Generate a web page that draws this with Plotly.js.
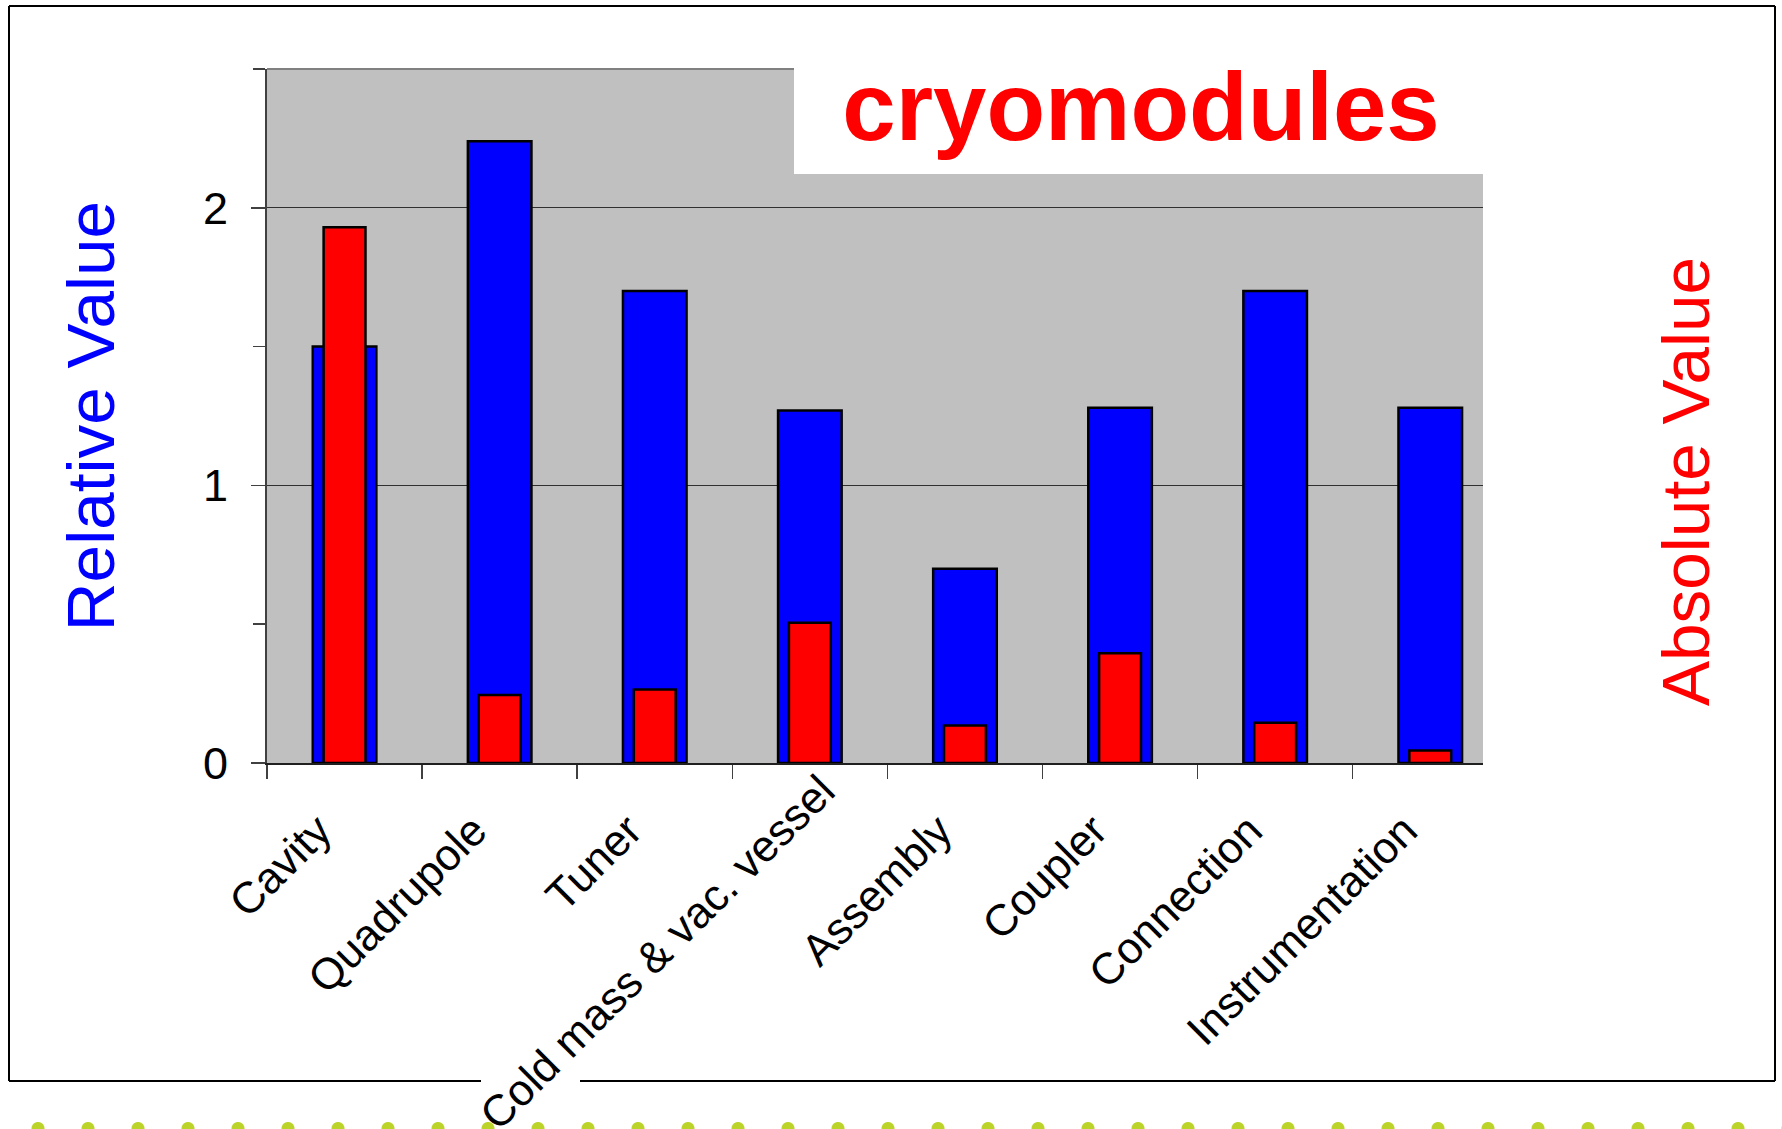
<!DOCTYPE html>
<html>
<head>
<meta charset="utf-8">
<script src="https://cdn.plot.ly/plotly-3.0.1.min.js"></script>
<style>
  html, body { margin: 0; padding: 0; background: #ffffff; }
  #chart { width: 1782px; height: 1129px; position: relative; }
  #dots {
    position: absolute; left: 0; top: 1100px; width: 1782px; height: 29px;
    background-image: radial-gradient(circle, #bcd42a 0px, #bcd42a 6px, rgba(255,255,255,0) 7px);
    background-size: 50px 29px; background-position: 13px 14px; background-repeat: repeat-x;
    pointer-events: none;
  }
</style>
</head>
<body>
<div id="chart"></div>
<div id="dots"></div>
<script>
// ---- data ----
const categories = ["Cavity", "Quadrupole", "Tuner", "Cold mass & vac. vessel",
                    "Assembly", "Coupler", "Connection", "Instrumentation"];
const relativeValues = [1.50, 2.24, 1.70, 1.27, 0.70, 1.28, 1.70, 1.28];
const absoluteValues = [1.93, 0.245, 0.265, 0.505, 0.135, 0.395, 0.145, 0.045];
const yTickValues = [0, 1, 2];
const yTickLabels = ["0", "1", "2"];
const chartTitle = "cryomodules";
const leftAxisTitle = "Relative Value";
const rightAxisTitle = "Absolute Value";

const FONT = "Liberation Sans, Arial, Helvetica, sans-serif";

// the long 4th category label is placed separately (as in the original, it is
// shifted up along its direction so that it stays inside the page)
const LONG_IDX = 3;
const xTickText = categories.map((c, i) => (i === LONG_IDX ? "" : c));

const traces = [
  {
    type: "bar", name: leftAxisTitle, x: categories, y: relativeValues,
    width: 0.41, marker: { color: "#0000ff", line: { color: "#000000", width: 2.5 } },
    yaxis: "y", hoverinfo: "x+y"
  },
  {
    type: "bar", name: rightAxisTitle, x: categories, y: absoluteValues,
    width: 0.27, marker: { color: "#ff0000", line: { color: "#000000", width: 2.5 } },
    yaxis: "y2", hoverinfo: "x+y"
  }
];

// frame geometry in paper units (plot area: x 267..1483, y 69..763 px)
const px = v => (v - 267) / 1216;
const py = v => (763 - v) / 694;

const layout = {
  width: 1782, height: 1129,
  margin: { l: 267, r: 299, t: 69, b: 366 },
  paper_bgcolor: "rgba(0,0,0,0)",
  plot_bgcolor: "#c0c0c0",
  showlegend: false,
  barmode: "overlay",
  font: { family: FONT, color: "#000000", size: 44 },
  title: {
    text: chartTitle,
    font: { family: FONT, size: 96, color: "#ff0000", weight: "bold" },
    xref: "container", yref: "container",
    x: 1141 / 1782, xanchor: "center",
    y: 1 - 106 / 1129, yanchor: "middle"
  },
  xaxis: {
    type: "category",
    range: [-0.5, 7.34],
    tickmode: "array", tickvals: categories, ticktext: xTickText,
    tickangle: -45,
    ticks: "outside", tickson: "boundaries", ticklen: 14, tickwidth: 1.5, tickcolor: "#404040",
    showline: true, linecolor: "#202020", linewidth: 2,
    showgrid: false, zeroline: false,
    tickfont: { family: FONT, size: 44, color: "#000000" },
    ticklabelshift: -26,
    ticklabelstandoff: 22,
    automargin: false
  },
  yaxis: {
    range: [0, 2.5],
    tickmode: "array", tickvals: yTickValues, ticktext: yTickLabels,
    ticks: "outside", ticklen: 14, tickwidth: 1.5, tickcolor: "#404040",
    minor: { dtick: 0.5, ticks: "outside", ticklen: 12, tickwidth: 1.5, tickcolor: "#404040", showgrid: false },
    showline: true, linecolor: "#404040", linewidth: 2,
    showgrid: true, gridcolor: "#303030", gridwidth: 1,
    zeroline: false,
    tickfont: { family: FONT, size: 45, color: "#000000" },
    ticklabelstandoff: 14,
    title: { text: leftAxisTitle, font: { family: FONT, size: 67.5, color: "#0000ff" }, standoff: 66 },
    automargin: false
  },
  yaxis2: {
    range: [0, 2.5],
    overlaying: "y", side: "right",
    showticklabels: false, ticks: "", showgrid: false, zeroline: false, showline: false,
    automargin: false
  },
  annotations: [
    { text: rightAxisTitle, xref: "paper", yref: "paper", x: px(1685), y: py(482),
      xanchor: "center", yanchor: "middle", textangle: -90, showarrow: false,
      font: { family: FONT, size: 67.5, color: "#ff0000" } },
    { text: categories[LONG_IDX], xref: "paper", yref: "paper", x: px(657), y: py(953),
      xanchor: "center", yanchor: "middle", textangle: -45, showarrow: false,
      borderpad: 0, font: { family: FONT, size: 44, color: "#000000" } }
  ],
  shapes: [
    // white box behind the title, cutting into the plot area
    { type: "rect", xref: "paper", yref: "paper", x0: px(794), x1: px(1486), y0: py(174), y1: py(60),
      fillcolor: "#ffffff", line: { width: 0 }, layer: "above" },
    // plot area top border (left part)
    { type: "line", xref: "paper", yref: "paper", x0: 0, x1: px(794), y0: 1, y1: 1,
      line: { color: "#808080", width: 2 } },
    // outer frame
    { type: "line", xref: "paper", yref: "paper", x0: px(9), x1: px(1775), y0: py(6), y1: py(6),
      line: { color: "#000000", width: 2 } },
    { type: "line", xref: "paper", yref: "paper", x0: px(9), x1: px(9), y0: py(6), y1: py(1081),
      line: { color: "#000000", width: 2 } },
    { type: "line", xref: "paper", yref: "paper", x0: px(1775), x1: px(1775), y0: py(6), y1: py(1081),
      line: { color: "#000000", width: 2 } },
    { type: "line", xref: "paper", yref: "paper", x0: px(9), x1: px(481), y0: py(1081), y1: py(1081),
      line: { color: "#000000", width: 2 } },
    { type: "line", xref: "paper", yref: "paper", x0: px(580), x1: px(1775), y0: py(1081), y1: py(1081),
      line: { color: "#000000", width: 2 } }
  ]
};

Plotly.newPlot("chart", traces, layout, { displayModeBar: false, staticPlot: true });
</script>
</body>
</html>
